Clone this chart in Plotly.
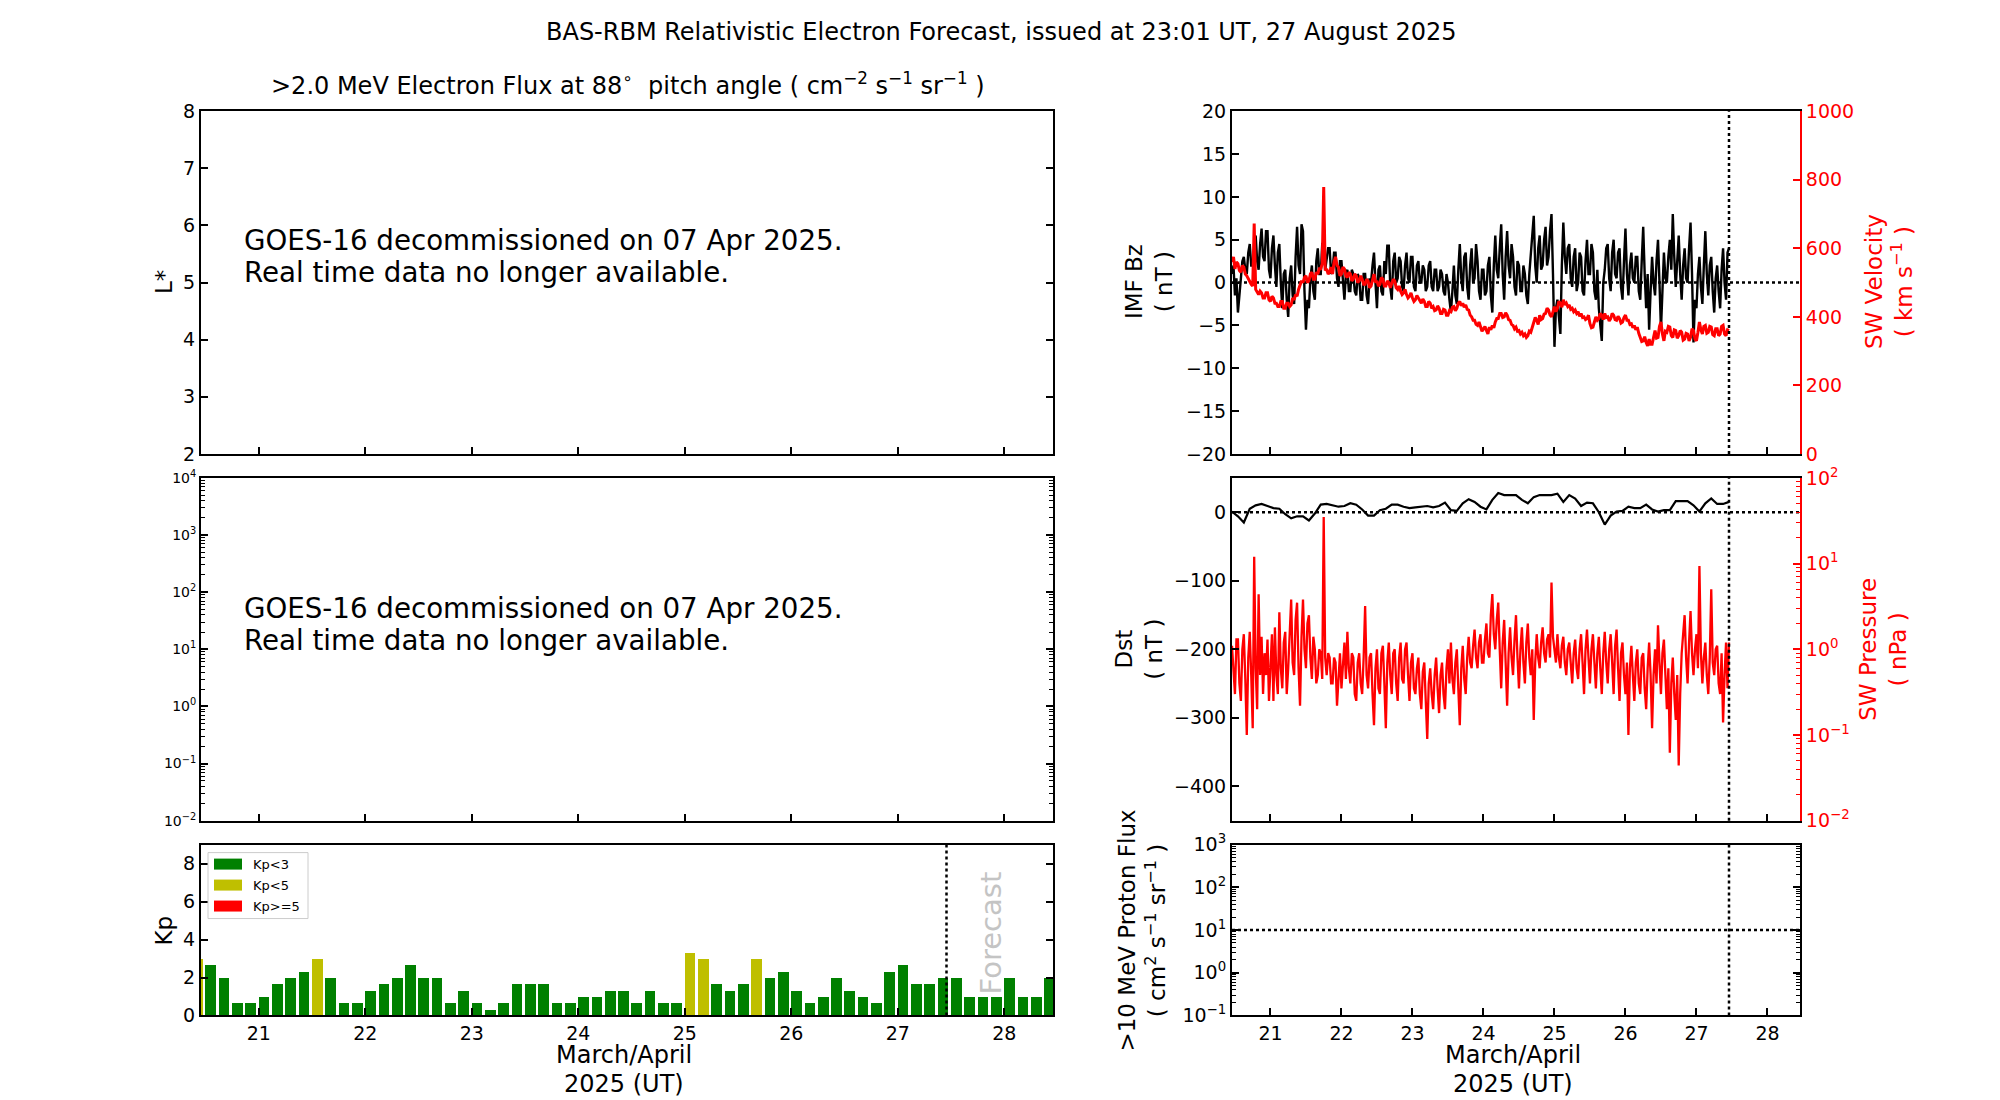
import numpy as np
import plotly.graph_objects as go

# ---------------- data ----------------
T_START = 20.458          # first plotted time (day of month)
T_ISSUE = 27.458          # forecast issue time
X_RANGE = [20.458, 28.458]

x_ticks = [21, 22, 23, 24, 25, 26, 27, 28]
x_ticklabels = ["21", "22", "23", "24", "25", "26", "27", "28"]

# Kp, 3-hourly, first bin starts 20.375
kp_start = 20.375
kp_values = [3.0,
             2.67, 2.0, 0.67, 0.67,
             1.0, 1.67, 2.0, 2.33, 3.0, 2.0, 0.67, 0.67,
             1.33, 1.67, 2.0, 2.67, 2.0, 2.0, 0.67, 1.33,
             0.67, 0.33, 0.67, 1.67, 1.67, 1.67, 0.67, 0.67,
             1.0, 1.0, 1.33, 1.33, 0.67, 1.33, 0.67, 0.67,
             3.33, 3.0, 1.67, 1.33, 1.67, 3.0, 2.0, 2.33,
             1.33, 0.67, 1.0, 2.0, 1.33, 1.0, 0.67, 2.33,
             2.67, 1.67, 1.67, 2.0, 2.0, 1.0, 1.0, 1.0,
             2.0, 1.0, 1.0, 2.0]

# IMF Bz (nT), every 30 min from T_START
bz_values = [1.0, 2.0, -1.5, 0.5, -3.5, -1.0, 0.5, 2.5, 3.0, 1.5, 1.0, 3.5, 4.5, 2.0, 2.0, 4.0,
             5.5, 2.5, 1.5, 4.5, 6.3, 3.0, 2.5, 6.0, 6.0, 1.5, 0.5, 4.0, 5.5, 2.0, -0.5, 3.5,
             4.5, 0.0, -3.0, 1.0, 1.5, -2.0, -4.0, 0.5, 2.0, -1.5, -2.5, 3.0, 6.5, 2.0, 1.0, 6.8,
             6.0, -1.0, -5.5, -2.0, -3.0, 0.5, 2.0, -1.0, -2.0, 2.5, 4.0, 1.0, 1.0, 4.5, 4.5, 1.5,
             2.5, 4.0, 4.0, 1.0, 1.5, 3.5, 3.5, 0.5, -0.5, 2.5, 2.5, -0.5, -2.0, 1.0, 1.5, -1.0,
             -1.0, 1.5, 1.0, -1.0, -1.5, 1.0, 0.5, -2.0, -2.0, 1.0, 1.0, -1.5, -2.5, 0.5, 0.0, 2.0,
             3.5, 0.0, -3.0, 1.5, 2.0, -1.0, -1.5, 2.5, 1.0, 4.3, 4.3, -0.5, -2.0, 2.5, 3.5, 0.0,
             0.5, 3.0, 2.5, -0.5, -1.0, 2.0, 3.5, 0.5, 0.0, 3.0, 3.0, -0.5, -1.0, 2.0, 2.5, 0.0,
             0.0, 2.0, 1.5, -1.0, -0.5, 2.0, 2.5, -0.5, -1.0, 1.5, 1.5, -1.0, -0.5, 1.5, 1.0, -1.0,
             -1.5, 1.0, 0.0, -2.0, -3.5, -1.0, 2.0, -1.5, -2.5, 1.5, 4.5, 0.5, -1.0, 3.0, 3.5, -0.5,
             -2.0, 2.0, 4.0, 0.0, 0.5, 4.5, 2.5, -1.0, -2.0, 1.5, 1.5, -1.5, -1.0, 2.0, 3.0, -1.5,
             -3.5, 2.0, 5.5, 1.5, 0.5, 4.0, 6.8, 1.0, -2.0, 3.0, 6.0, 2.0, 0.5, 4.5, 3.0, -0.5,
             -1.5, 2.5, 2.0, -1.0, -1.0, 2.0, 1.0, -1.5, -2.5, 1.0, 3.5, 6.0, 7.8, 2.0, 0.0, 4.0,
             5.5, 1.5, 2.0, 5.0, 6.5, 2.0, 3.0, 6.0, 8.0, 1.0, -7.5, -3.0, -2.0, -4.0, -6.0, 2.0,
             7.0, 3.0, 1.0, 4.0, 4.5, 0.5, -0.5, 3.0, 4.0, -1.0, 0.0, 3.5, 3.0, -1.0, -1.5, 2.5,
             5.0, 1.0, 1.0, 4.5, 3.5, -1.0, -2.0, 1.5, -3.0, -5.0, -6.8, 0.0, 1.5, 4.0, 4.5, 0.5,
             -1.0, 3.5, 5.0, 1.0, 0.5, 3.5, 4.0, -0.5, -2.0, 2.5, 6.3, 1.0, -1.5, 2.0, 3.5, 0.5,
             0.0, 3.0, 3.0, -1.0, -2.0, 2.5, 6.5, 1.0, -3.0, 1.0, -5.5, -1.0, 3.0, 0.0, -1.5, 2.5,
             5.0, 0.0, -5.5, -1.0, 3.5, 0.5, 0.0, 3.0, 5.0, 1.5, 8.0, 3.0, -0.5, 2.5, 5.5, 1.0,
             -2.0, 2.0, 4.0, 0.5, 0.0, 4.0, 7.0, 1.0, -7.0, -2.0, -3.0, 1.0, 3.0, -0.5, -2.5, 2.0,
             6.0, 1.0, -1.5, 2.0, 3.0, -1.0, -3.5, 0.5, 2.0, -1.0, -3.0, 1.5, 4.0, 0.0, -2.0, 3.5,
             4.0]

# Solar wind velocity (km/s), every 30 min from T_START
vsw_values = [560, 575, 540, 560, 555, 535, 530, 550, 545, 525, 520, 510, 505, 495, 490, 672,
              480, 470, 465, 475, 470, 455, 455, 470, 470, 450, 445, 460, 455, 440, 440, 430,
              430, 445, 445, 425, 425, 440, 440, 430, 435, 455, 450, 465, 460, 480, 490, 505,
              500, 515, 520, 500, 505, 525, 530, 510, 510, 530, 525, 540, 540, 555, 779, 535,
              540, 525, 530, 545, 525, 560, 575, 550, 545, 520, 525, 545, 540, 520, 515, 530,
              525, 505, 510, 525, 520, 500, 505, 520, 510, 495, 495, 510, 505, 485, 490, 505,
              525, 500, 505, 490, 495, 515, 510, 490, 490, 505, 500, 485, 495, 510, 505, 485,
              480, 490, 475, 465, 470, 480, 465, 455, 460, 470, 455, 445, 450, 462, 455, 445,
              440, 452, 445, 430, 430, 445, 440, 425, 430, 418, 420, 432, 425, 410, 410, 422,
              420, 405, 405, 418, 415, 428, 430, 418, 425, 440, 445, 432, 440, 428, 435, 422,
              420, 405, 400, 390, 390, 378, 375, 385, 370, 358, 365, 372, 360, 350, 370, 362,
              375, 368, 385, 395, 395, 410, 410, 398, 400, 412, 405, 392, 390, 378, 375, 365,
              370, 358, 360, 350, 355, 345, 350, 340, 345, 358, 355, 370, 380, 398, 390, 378,
              405, 392, 395, 408, 410, 425, 420, 405, 400, 420, 430, 415, 425, 445, 440, 428,
              450, 435, 440, 430, 435, 422, 425, 415, 420, 410, 415, 402, 410, 398, 400, 392,
              395, 405, 380, 368, 370, 385, 400, 390, 395, 410, 405, 392, 410, 398, 400, 388,
              395, 410, 405, 392, 390, 402, 395, 382, 385, 398, 405, 390, 390, 378, 380, 368,
              375, 362, 370, 352, 340, 328, 330, 342, 325, 315, 335, 320, 320, 345, 360, 338,
              340, 372, 385, 350, 330, 358, 355, 372, 370, 345, 340, 362, 360, 338, 345, 360,
              355, 332, 335, 352, 350, 330, 340, 365, 360, 335, 330, 355, 385, 362, 350, 372,
              375, 352, 355, 372, 370, 348, 345, 365, 365, 345, 350, 372, 375, 350, 345, 362,
              360]

# Dst (nT), 2-hourly from T_START
dst_values = [1, -6, -15, 5, 10, 12, 9, 6, 5, -3,
              -9, -6, -6, -12, -2, 11, 12, 10, 8, 9,
              13, 11, 4, -5, -5, 3, 5, 11, 11, 8,
              6, 7, 8, 9, 7, 9, 14, 3, 2, 13,
              19, 15, 8, 4, 18, 28, 25, 25, 25, 18,
              13, 22, 25, 25, 25, 27, 15, 25, 20, 9,
              14, 13, 0, -18, -5, 1, 2, 8, 6, 6,
              11, 4, 1, 3, 3, 16, 16, 16, 10, 1,
              13, 20, 12, 12, 15]

# Solar wind dynamic pressure (nPa), every 30 min from T_START
psw_values = [1.1, 0.5, 0.3, 1.3, 1.3, 0.4, 0.25, 1.0, 1.5, 0.45, 0.1, 0.8, 1.6, 0.5, 0.12, 12.0,
              0.6, 0.2, 4.4, 0.5, 1.4, 0.3, 0.9, 0.5, 1.3, 0.25, 0.8, 1.5, 0.25, 1.8, 0.5, 0.3,
              2.7, 0.6, 0.35, 1.2, 1.6, 0.3, 0.6, 1.5, 3.8, 0.7, 0.5, 2.2, 3.5, 0.6, 0.22, 1.4,
              3.8, 1.0, 0.6, 2.0, 2.5, 0.8, 0.45, 1.4, 1.0, 0.4, 0.5, 1.0, 0.9, 0.45, 35.0, 0.8,
              0.5, 0.9, 0.8, 0.4, 0.4, 0.8, 0.7, 0.22, 0.5, 0.9, 0.35, 0.7, 1.2, 0.45, 1.6, 0.6,
              0.4, 0.9, 0.8, 0.3, 0.25, 0.7, 0.9, 0.4, 0.3, 0.8, 3.2, 0.5, 0.35, 0.8, 0.9, 0.3,
              0.13, 0.6, 1.0, 0.35, 0.3, 0.9, 1.1, 0.4, 0.12, 0.7, 1.2, 0.5, 0.3, 0.9, 1.0, 0.4,
              0.25, 0.8, 1.2, 0.45, 0.4, 1.0, 1.2, 0.5, 0.25, 0.7, 0.9, 0.35, 0.3, 0.6, 0.8, 0.3,
              0.2, 0.55, 0.7, 0.25, 0.09, 0.4, 0.6, 0.3, 0.2, 0.5, 0.8, 0.35, 0.18, 0.5, 0.7, 0.3,
              0.2, 0.6, 1.0, 0.4, 1.2, 0.45, 0.3, 0.7, 1.0, 0.35, 0.13, 0.6, 1.1, 0.45, 0.3, 0.8,
              1.4, 0.7, 0.6, 1.1, 1.7, 0.8, 0.6, 1.2, 1.5, 0.7, 0.7, 1.3, 2.0, 0.9, 0.8, 2.5,
              4.4, 1.5, 1.0, 2.2, 3.5, 1.0, 0.35, 1.2, 2.2, 0.7, 0.22, 0.9, 1.8, 0.8, 0.5, 1.3,
              2.5, 0.8, 0.35, 1.0, 1.8, 0.7, 0.4, 1.2, 2.0, 0.8, 0.5, 1.0, 0.15, 0.7, 1.5, 0.8,
              0.6, 1.2, 1.8, 0.9, 0.7, 1.3, 1.5, 0.8, 6.0, 1.4, 1.0, 0.7, 1.5, 0.8, 0.6, 1.1,
              1.4, 0.7, 0.5, 1.0, 1.2, 0.6, 0.4, 0.9, 1.3, 0.6, 0.45, 1.0, 1.5, 0.7, 0.3, 1.0,
              1.7, 0.8, 0.4, 1.0, 1.5, 0.7, 0.35, 0.9, 1.4, 0.6, 0.3, 0.9, 1.6, 0.7, 0.4, 1.0,
              1.5, 0.7, 0.3, 1.1, 1.7, 0.6, 0.25, 0.9, 1.2, 0.5, 0.3, 0.7, 0.1, 0.6, 1.1, 0.5,
              0.25, 0.7, 1.0, 0.4, 0.3, 0.8, 0.9, 0.35, 0.2, 0.6, 1.2, 0.5, 0.12, 0.5, 1.0, 0.4,
              1.9, 0.7, 0.3, 0.9, 1.3, 0.5, 0.2, 0.6, 0.062, 0.4, 0.8, 0.3, 0.15, 0.5, 0.044, 0.3,
              0.9, 1.5, 2.5, 0.8, 0.4, 1.2, 2.8, 0.9, 0.5, 1.0, 1.5, 0.6, 9.4, 0.9, 0.4, 0.8,
              1.2, 0.5, 0.3, 0.8, 5.0, 0.7, 0.5, 1.0, 1.1, 0.4, 0.3, 0.9, 0.14, 0.5, 1.2, 0.35,
              1.2]

PROTON_THRESHOLD = 10

kp_classes = [("Kp<3", "#008000", 0, 3), ("Kp<5", "#bfbf00", 3, 5), ("Kp>=5", "#ff0000", 5, 99)]

# ---------------- layout helpers ----------------
W, H = 2000, 1100
# map target screen pixels to paper coordinates (small empirical correction for page offset)
def px(x): return (x - 7) / W
def py(y): return 1 - ((y - 20.7) / 0.979) / H

FONT = "DejaVu Sans"
TICKFONT = dict(family=FONT, size=19, color="black")

LX = [px(200), px(1052)]
RX = [px(1231), px(1799)]
Y_TOP = [py(454), py(111)]
Y_MID = [py(821), py(478)]
Y_BOT = [py(1016), py(845)]

def base_axis(**kw):
    d = dict(showline=True, linecolor="black", linewidth=2, ticks="inside",
             ticklen=7, tickwidth=1.5, tickcolor="black", showgrid=False,
             zeroline=False, tickfont=TICKFONT)
    d.update(kw)
    return d

def log_minor(lo, hi):
    vals = []
    for e in range(lo, hi):
        for k in range(2, 10):
            vals.append(k * 10.0 ** e)
    return vals

def log_ticks(lo, hi):
    vals = [10.0 ** e for e in range(lo, hi + 1)]
    txt = ["10<sup>%s</sup>" % (str(e).replace("-", "\u2212")) for e in range(lo, hi + 1)]
    return vals, txt

def xaxis(domain, anchor, labels):
    return base_axis(domain=domain, anchor=anchor, range=X_RANGE, tickvals=x_ticks,
                     ticktext=x_ticklabels, showticklabels=labels, mirror=True)

fig = go.Figure()

t_bz = T_START + np.arange(len(bz_values)) / 48.0
t_v = T_START + np.arange(len(vsw_values)) / 48.0
t_p = T_START + np.arange(len(psw_values)) / 48.0
t_dst = T_START + np.arange(len(dst_values)) / 12.0
kp_t = kp_start + np.arange(len(kp_values)) * 0.125
kp_arr = np.array(kp_values)

# empty panels (keep axes alive)
fig.add_trace(go.Scatter(x=[None], y=[None], xaxis="x", yaxis="y", showlegend=False))
fig.add_trace(go.Scatter(x=[None], y=[None], xaxis="x2", yaxis="y2", showlegend=False))

# Kp bars
for name, col, lo, hi in kp_classes:
    m = (kp_arr >= lo) & (kp_arr < hi)
    fig.add_trace(go.Bar(x=kp_t[m], y=kp_arr[m], width=0.1, offset=0, name=name,
                         marker=dict(color=col, line=dict(width=0)),
                         xaxis="x3", yaxis="y3", showlegend=False))

# Bz / velocity
fig.add_trace(go.Scatter(x=t_bz, y=bz_values, mode="lines", line=dict(color="black", width=2.4),
                         xaxis="x4", yaxis="y4", showlegend=False))
fig.add_trace(go.Scatter(x=t_v, y=vsw_values, mode="lines", line=dict(color="red", width=3),
                         xaxis="x4", yaxis="y5", showlegend=False))

# Dst / pressure
fig.add_trace(go.Scatter(x=t_dst, y=dst_values, mode="lines", line=dict(color="black", width=2.2),
                         xaxis="x5", yaxis="y6", showlegend=False))
fig.add_trace(go.Scatter(x=t_p, y=psw_values, mode="lines", line=dict(color="red", width=2.3),
                         xaxis="x5", yaxis="y7", showlegend=False))

# proton flux threshold
fig.add_trace(go.Scatter(x=X_RANGE, y=[PROTON_THRESHOLD, PROTON_THRESHOLD], mode="lines",
                         line=dict(color="black", width=2.5, dash="dot"),
                         xaxis="x6", yaxis="y8", showlegend=False))

lv2, lt2 = log_ticks(-2, 4)
lv7, lt7 = log_ticks(-2, 2)
lv8, lt8 = log_ticks(-1, 3)

layout = dict(
    width=W, height=H, margin=dict(l=0, r=0, t=0, b=0),
    paper_bgcolor="white", plot_bgcolor="white",
    barmode="overlay", bargap=0,
    font=dict(family=FONT, color="black"),
    showlegend=False,
    xaxis=xaxis(LX, "y", False),
    yaxis=base_axis(domain=Y_TOP, anchor="x", range=[2, 8], dtick=1, mirror="ticks"),
    xaxis2=xaxis(LX, "y2", False),
    yaxis2=base_axis(domain=Y_MID, anchor="x2", type="log", range=[-2, 4], tickvals=lv2,
                     ticktext=lt2, mirror="ticks", tickfont=dict(family=FONT, size=14),
                     minor=dict(tickvals=log_minor(-2, 4), ticks="inside", ticklen=4,
                                tickcolor="black", tickwidth=1)),
    xaxis3=xaxis(LX, "y3", True),
    yaxis3=base_axis(domain=Y_BOT, anchor="x3", range=[0, 9], tickvals=[0, 2, 4, 6, 8], mirror="ticks"),
    xaxis4=xaxis(RX, "y4", False),
    yaxis4=base_axis(domain=Y_TOP, anchor="x4", range=[-20, 20], dtick=5),
    yaxis5=base_axis(overlaying="y4", anchor="x4", side="right", range=[0, 1000], dtick=200,
                     linecolor="red", tickcolor="red", tickfont=dict(family=FONT, size=19, color="red")),
    xaxis5=xaxis(RX, "y6", False),
    yaxis6=base_axis(domain=Y_MID, anchor="x5", range=[-450, 50], tickvals=[0, -100, -200, -300, -400]),
    yaxis7=base_axis(overlaying="y6", anchor="x5", side="right", type="log", range=[-2, 2],
                     tickvals=lv7, ticktext=lt7, linecolor="red", tickcolor="red",
                     tickfont=dict(family=FONT, size=19, color="red"),
                     minor=dict(tickvals=log_minor(-2, 2), ticks="inside", ticklen=4,
                                tickcolor="red", tickwidth=1)),
    xaxis6=xaxis(RX, "y8", True),
    yaxis8=base_axis(domain=Y_BOT, anchor="x6", type="log", range=[-1, 3], tickvals=lv8,
                     ticktext=lt8, mirror="ticks",
                     minor=dict(tickvals=log_minor(-1, 3), ticks="inside", ticklen=4,
                                tickcolor="black", tickwidth=1)),
)
fig.update_layout(**layout)

# dotted reference lines
dot = dict(color="black", width=2.5, dash="dot")
shapes = []
for xr, yr in [("x3", "y3 domain"), ("x4", "y4 domain"), ("x5", "y6 domain"), ("x6", "y8 domain")]:
    shapes.append(dict(type="line", xref=xr, yref=yr, x0=T_ISSUE, x1=T_ISSUE, y0=0, y1=1, line=dot, layer="above"))
shapes.append(dict(type="line", xref="x4 domain", yref="y4", x0=0, x1=1, y0=0, y1=0, line=dot, layer="below"))
shapes.append(dict(type="line", xref="x5 domain", yref="y6", x0=0, x1=1, y0=0, y1=0, line=dot, layer="below"))

# Kp legend (box + colour patches)
shapes.append(dict(type="rect", xref="paper", yref="paper", x0=px(207), x1=px(307), y0=py(919), y1=py(853),
                   line=dict(color="#cccccc", width=1), fillcolor="rgba(255,255,255,0.8)", layer="above"))
legend_rows = [864.5, 885.5, 906.5]
for (name, col, lo, hi), yc in zip(kp_classes, legend_rows):
    shapes.append(dict(type="rect", xref="paper", yref="paper", x0=px(213), x1=px(241),
                       y0=py(yc + 5.5), y1=py(yc - 5.5), line=dict(width=0), fillcolor=col, layer="above"))
fig.update_layout(shapes=shapes)

ann = []
def text(x, y, s, size, color="black", angle=0, xanchor="center", yanchor="middle", xref="paper", yref="paper"):
    ann.append(dict(x=x, y=y, xref=xref, yref=yref, text=s, showarrow=False, textangle=angle,
                    xanchor=xanchor, yanchor=yanchor, font=dict(family=FONT, size=size, color=color)))

text(px(1000), py(32), "BAS-RBM Relativistic Electron Forecast, issued at 23:01 UT, 27 August 2025", 24)
text(px(627), py(84), ">2.0 MeV Electron Flux at 88<sup>\u2218</sup>  pitch angle ( cm<sup>\u22122</sup> s<sup>\u22121</sup> sr<sup>\u22121</sup> )", 24)
for yc in (240, 608.4):
    text(px(241), py(yc), "GOES-16 decommissioned on 07 Apr 2025.", 27.7, xanchor="left")
    text(px(241), py(yc + 32), "Real time data no longer available.", 27.7, xanchor="left")

for (name, col, lo, hi), yc in zip(kp_classes, legend_rows):
    text(px(250), py(yc), name, 13, xanchor="left")

text(px(163), py(282), "L*", 23, angle=-90)
text(px(163), py(931), "Kp", 23, angle=-90)
text(px(1148), py(282), "IMF Bz<br>( nT )", 23, angle=-90)
text(px(1888), py(282), "SW Velocity<br>( km s<sup>\u22121</sup> )", 23, color="red", angle=-90)
text(px(1138), py(650), "Dst<br>( nT )", 23, angle=-90)
text(px(1882), py(650), "SW Pressure<br>( nPa )", 23, color="red", angle=-90)
text(px(1141), py(931), ">10 MeV Proton Flux<br>( cm<sup>2</sup> s<sup>\u22121</sup> sr<sup>\u22121</sup> )", 23, angle=-90)

for xc in (623, 1512):
    text(px(xc), py(1056), "March/April", 24)
    text(px(xc), py(1085), "2025 (UT)", 24)

text(27.88, 1.0, "Forecast", 29, color="#c4c4c4", angle=-90, yanchor="bottom", xref="x3", yref="y3")

fig.update_layout(annotations=ann)
fig.write_html("out.html")
